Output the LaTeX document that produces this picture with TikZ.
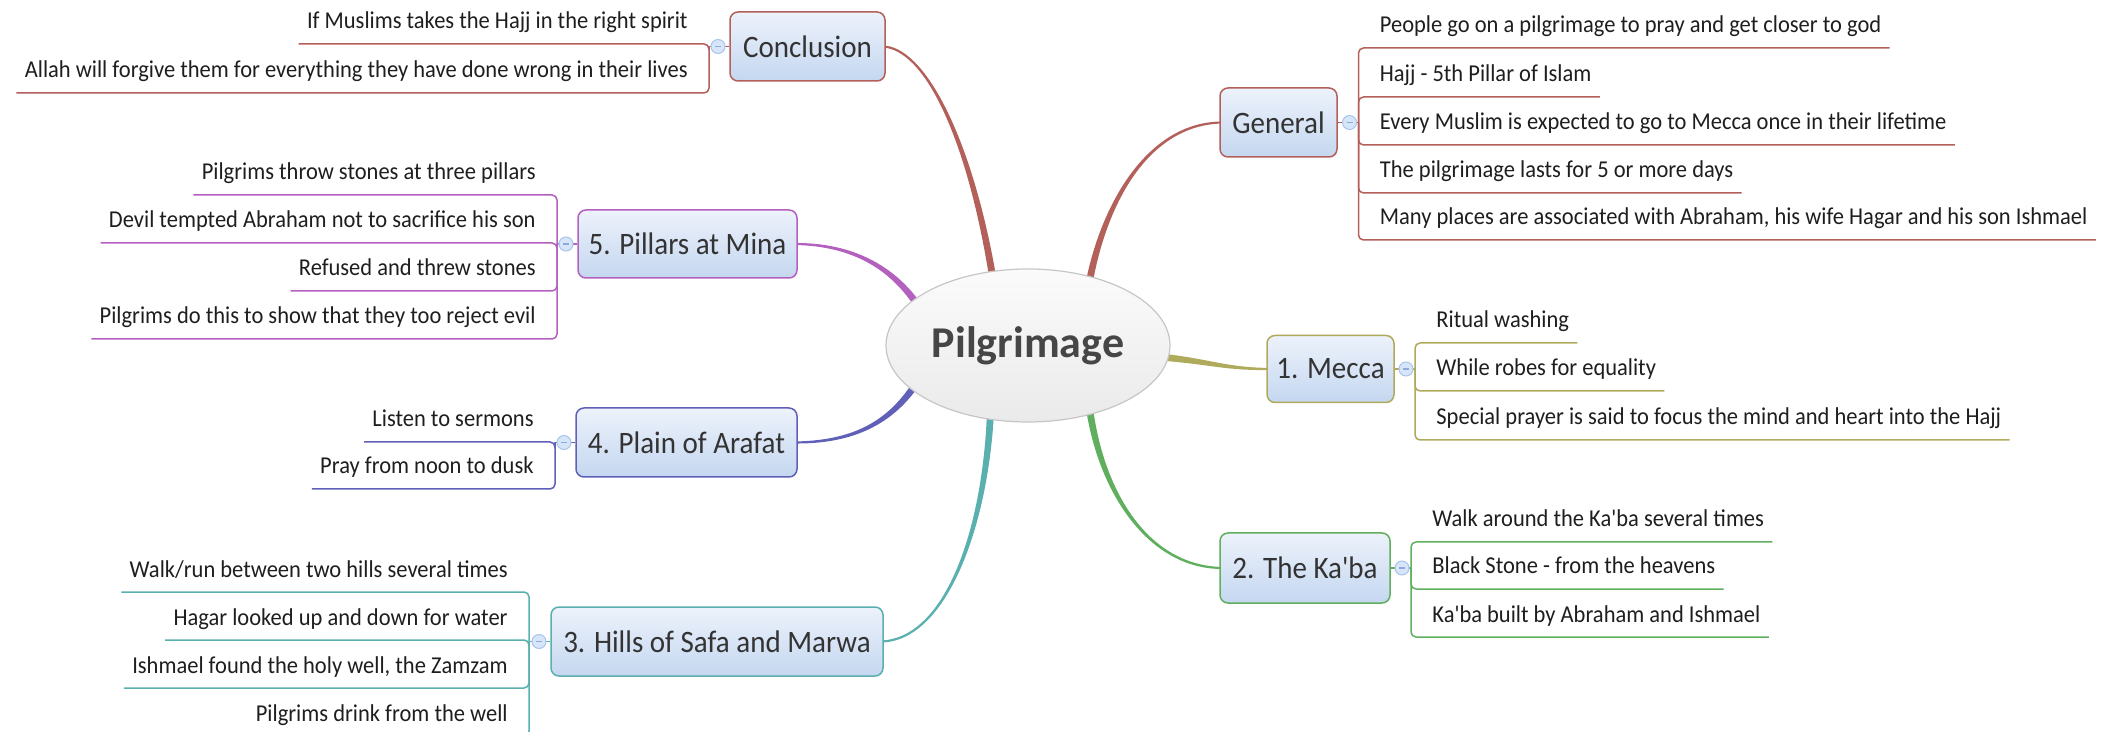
\documentclass[tikz,border=0pt]{standalone}
\usepackage{fontspec}
\setmainfont{Carlito}
\newfontfamily\narrowface{Carlito}[FakeStretch=0.93]
\usetikzlibrary{calc,backgrounds,shapes.geometric}

\definecolor{rust}{HTML}{B4605A}
\definecolor{olivebr}{HTML}{AFAA5C}
\definecolor{greenbr}{HTML}{5FAF5F}
\definecolor{tealbr}{HTML}{5AAFAF}
\definecolor{indigobr}{HTML}{6060B8}
\definecolor{orchidbr}{HTML}{B460BE}
\definecolor{boxtop}{HTML}{EDF2FB}
\definecolor{boxbot}{HTML}{C4D7F0}
\definecolor{hubtop}{HTML}{FBFBFB}
\definecolor{hubbot}{HTML}{EAEAEA}
\definecolor{hubedge}{HTML}{C6C6C6}
\definecolor{knobfill}{HTML}{D7E5F9}
\definecolor{knobedge}{HTML}{A9C4EC}
\definecolor{knobbar}{HTML}{8DAAD8}
\definecolor{inkleaf}{HTML}{1E1E1E}
\definecolor{inkbox}{HTML}{333333}
\definecolor{inkhub}{HTML}{464646}

% tapered main branch: start, control 1, control 2, end, colour
\newcommand\limb[5]{%
  \fill[#5] ($(#1)!1.75pt!90:(#2)$)
    .. controls ($(#2)!1.3pt!-90:(#1)$) and ($(#3)!0.85pt!90:(#4)$) .. ($(#4)!0.5pt!-90:(#3)$)
    -- ($(#4)!0.5pt!90:(#3)$)
    .. controls ($(#3)!0.85pt!-90:(#4)$) and ($(#2)!1.3pt!90:(#1)$) .. ($(#1)!1.75pt!-90:(#2)$)
    -- cycle;}

\tikzset{
  hub/.style={ellipse, draw=hubedge, line width=0.6pt, top color=hubtop, bottom color=hubbot,
    minimum width=142pt, minimum height=76.5pt, inner sep=0pt,
    font=\bfseries\fontsize{22}{26}\selectfont, text=inkhub},
  topic/.style={draw=#1, line width=0.75pt, rounded corners=4pt, top color=boxtop, bottom color=boxbot,
    inner sep=0pt, font=\narrowface\fontsize{15.6}{18}\selectfont, text=inkbox},
  leaf/.style={inner sep=0pt, font=\narrowface\fontsize{12.1}{14}\selectfont, text=inkleaf},
  twig/.style={draw=#1, line width=0.75pt, rounded corners=2.5pt},
  knob/.style={circle, draw=knobedge, line width=0.5pt, fill=knobfill, minimum size=7pt, inner sep=0pt,
    path picture={\draw[knobbar, line width=0.6pt]
      ($(path picture bounding box.center)+(-3,0)$) -- ($(path picture bounding box.center)+(3,0)$);}},
}

\begin{document}
\begin{tikzpicture}[x=0.5pt,y=-0.5pt]
\useasboundingbox (0,0) rectangle (2116,732);
\clip (0,0) rectangle (2116,732);

% central topic
\node[hub] (hub) at (1028,345.5) {Pilgrimage};

% main topics
\node[topic=rust, minimum width=77.5pt, minimum height=34.5pt] (con) at (807.5,46.5) {Conclusion};
\node[topic=rust, minimum width=58.5pt, minimum height=34.5pt] (gen) at (1278.5,122.5) {General};
\node[topic=olivebr, minimum width=63.5pt, minimum height=33.5pt] (mec) at (1330.5,369) {1. Mecca};
\node[topic=greenbr, minimum width=85pt, minimum height=35pt] (kab) at (1305,568) {2. The Ka'ba};
\node[topic=tealbr, minimum width=166pt, minimum height=34.5pt] (hil) at (717,641.5) {3. Hills of Safa and Marwa};
\node[topic=indigobr, minimum width=110.5pt, minimum height=34.5pt] (ara) at (686.5,442.5) {4. Plain of Arafat};
\node[topic=orchidbr, minimum width=109.5pt, minimum height=34pt] (min) at (687.5,244) {5. Pillars at Mina};

% bracket points
\coordinate (conb) at (709,46.5);
\coordinate (genb) at (1358.5,122.5);
\coordinate (mecb) at (1415,369);
\coordinate (kabb) at (1411,568);
\coordinate (hilb) at (529,641.5);
\coordinate (arab) at (555,442.5);
\coordinate (minb) at (557,244);

% branch ends, tucked under the shapes
\coordinate (s1) at ($(hub.116)!-3pt!(970,140)$);
\coordinate (e1) at ($(con.east)!-2pt!(925,46.5)$);
\coordinate (s2) at ($(hub.48)!-3pt!(1105,200)$);
\coordinate (e2) at ($(gen.west)!-2pt!(1150,122.5)$);
\coordinate (s3) at ($(hub.-5)!-3pt!(1212,362)$);
\coordinate (e3) at ($(mec.west)!-2pt!(1225,369)$);
\coordinate (s4) at ($(hub.-48)!-3pt!(1102,495)$);
\coordinate (e4) at ($(kab.west)!-2pt!(1150,568)$);
\coordinate (s5) at ($(hub.243.5)!-3pt!(985,530)$);
\coordinate (e5) at ($(hil.east)!-2pt!(945,641.5)$);
\coordinate (s6) at ($(hub.201)!-3pt!(888,425)$);
\coordinate (e6) at ($(ara.east)!-2pt!(850,442.5)$);
\coordinate (s7) at ($(hub.158.5)!-3pt!(888,262)$);
\coordinate (e7) at ($(min.east)!-2pt!(845,244)$);

\begin{scope}[on background layer]
  \limb{s1}{970,140}{925,46.5}{e1}{rust}
  \limb{s2}{1105,200}{1150,122.5}{e2}{rust}
  \limb{s3}{1212,362}{1225,369}{e3}{olivebr}
  \limb{s4}{1102,495}{1150,568}{e4}{greenbr}
  \limb{s5}{985,530}{945,641.5}{e5}{tealbr}
  \limb{s6}{888,425}{850,442.5}{e6}{indigobr}
  \limb{s7}{888,262}{845,244}{e7}{orchidbr}
  % stubs from topics to their brackets
  \draw[twig=rust] (con.west) -- (conb);
  \draw[twig=rust] (gen.east) -- (genb);
  \draw[twig=olivebr] (mec.east) -- (mecb);
  \draw[twig=greenbr] (kab.east) -- (kabb);
  \draw[twig=tealbr] (hil.west) -- (hilb);
  \draw[twig=indigobr] (ara.west) -- (arab);
  \draw[twig=orchidbr] (min.west) -- (minb);
\end{scope}

% collapse buttons
\node[knob] (conk) at (718,46.5) {};
\node[knob] (genk) at (1349.5,122.5) {};
\node[knob] (meck) at (1406,369) {};
\node[knob] (kabk) at (1402,568) {};
\node[knob] (hilk) at (539,641.5) {};
\node[knob] (arak) at (564,442.5) {};
\node[knob] (mink) at (566,244) {};

% Conclusion
\node[leaf, anchor=base east] (c1) at (688,29) {If Muslims takes the Hajj in the right spirit};
\node[leaf, anchor=base east] (c2) at (688,78) {Allah will forgive them for everything they have done wrong in their lives};
\foreach \n in {c1,c2} \draw[twig=rust] (conb) |- ($(\n.base west)+(-8,15)$);

% General
\node[leaf, anchor=base west] (g1) at (1379.5,33) {People go on a pilgrimage to pray and get closer to god};
\node[leaf, anchor=base west] (g2) at (1379.5,82) {Hajj - 5th Pillar of Islam};
\node[leaf, anchor=base west] (g3) at (1379.5,130) {Every Muslim is expected to go to Mecca once in their lifetime};
\node[leaf, anchor=base west] (g4) at (1379.5,178) {The pilgrimage lasts for 5 or more days};
\node[leaf, anchor=base west] (g5) at (1379.5,225) {Many places are associated with Abraham, his wife Hagar and his son Ishmael};
\foreach \n in {g1,g2,g3,g4,g5} \draw[twig=rust] (genb) |- ($(\n.base east)+(8,15)$);

% 1. Mecca
\node[leaf, anchor=base west] (m1) at (1436,328) {Ritual washing};
\node[leaf, anchor=base west] (m2) at (1436,376) {While robes for equality};
\node[leaf, anchor=base west] (m3) at (1436,425) {Special prayer is said to focus the mind and heart into the Hajj};
\foreach \n in {m1,m2,m3} \draw[twig=olivebr] (mecb) |- ($(\n.base east)+(8,15)$);

% 2. The Ka'ba
\node[leaf, anchor=base west] (k1) at (1432,527) {Walk around the Ka'ba several times};
\node[leaf, anchor=base west] (k2) at (1432,574) {Black Stone - from the heavens};
\node[leaf, anchor=base west] (k3) at (1432,622) {Ka'ba built by Abraham and Ishmael};
\foreach \n in {k1,k2,k3} \draw[twig=greenbr] (kabb) |- ($(\n.base east)+(8,15)$);

% 3. Hills of Safa and Marwa
\node[leaf, anchor=base east] (h1) at (508,577) {Walk/run between two hills several times};
\node[leaf, anchor=base east] (h2) at (508,625) {Hagar looked up and down for water};
\node[leaf, anchor=base east] (h3) at (508,673) {Ishmael found the holy well, the Zamzam};
\node[leaf, anchor=base east] (h4) at (508,721) {Pilgrims drink from the well};
\foreach \n in {h1,h2,h3,h4} \draw[twig=tealbr] (hilb) |- ($(\n.base west)+(-8,15)$);

% 4. Plain of Arafat
\node[leaf, anchor=base east] (a1) at (534,427) {Listen to sermons};
\node[leaf, anchor=base east] (a2) at (534,474) {Pray from noon to dusk};
\foreach \n in {a1,a2} \draw[twig=indigobr] (arab) |- ($(\n.base west)+(-8,15)$);

% 5. Pillars at Mina
\node[leaf, anchor=base east] (p1) at (536,180) {Pilgrims throw stones at three pillars};
\node[leaf, anchor=base east] (p2) at (536,228) {Devil tempted Abraham not to sacrifice his son};
\node[leaf, anchor=base east] (p3) at (536,276) {Refused and threw stones};
\node[leaf, anchor=base east] (p4) at (536,324) {Pilgrims do this to show that they too reject evil};
\foreach \n in {p1,p2,p3,p4} \draw[twig=orchidbr] (minb) |- ($(\n.base west)+(-8,15)$);
\end{tikzpicture}
\end{document}
